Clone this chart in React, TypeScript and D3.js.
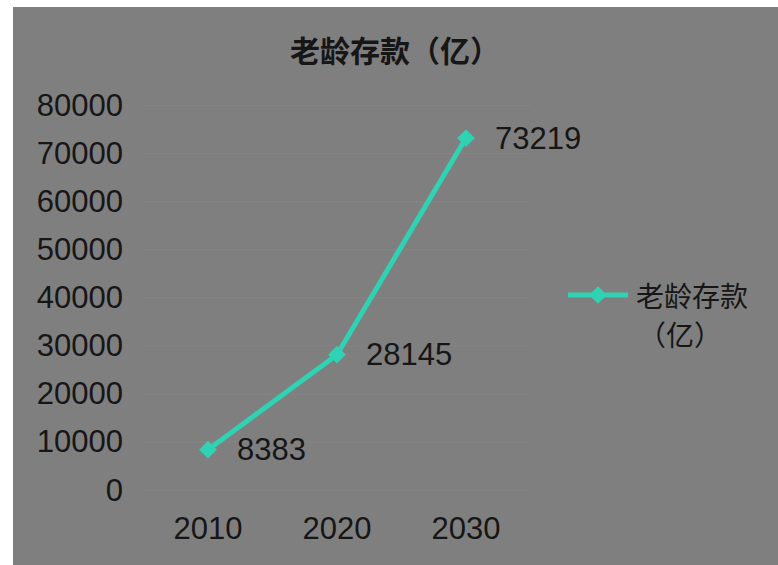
import React from "react";
import * as d3 from "d3";

const categories = ["2010", "2020", "2030"];
const values = [8383, 28145, 73219];
const yTicks = [0, 10000, 20000, 30000, 40000, 50000, 60000, 70000, 80000];
const title = "老龄存款（亿）";
const legendLines = ["老龄存款", "（亿）"];

const W = 778;
const H = 565;
const LINE = "#2fd2b3";
const TEXT = "#161616";
const FONT = "'Liberation Sans', Arial, sans-serif";
const CJK = "'Noto Sans CJK SC', 'Noto Sans', sans-serif";

export default function App() {
  const x = d3.scaleBand<string>().domain(categories).range([143.5, 530.5]).padding(0);
  const y = d3.scaleLinear().domain([0, 80000]).range([490, 105.5]);
  const cx = (c: string) => (x(c) as number) + x.bandwidth() / 2;
  const line = d3
    .line<number>()
    .x((_, i) => cx(categories[i]))
    .y((d) => y(d));
  const diamond = d3.symbol().type(d3.symbolDiamond2).size(200)();

  return (
    <svg
      width={W}
      height={H}
      style={{ position: "absolute", left: 0, top: 0, background: "#ffffff" }}
    >
      <rect x={13} y={7} width={W - 13} height={H - 7} fill="#7f7f7f" />
      <text
        x={395}
        y={49}
        textAnchor="middle"
        dominantBaseline="central"
        fontFamily={CJK}
        fontWeight={700}
        fontSize={30}
        fill={TEXT}
      >
        {title}
      </text>
      {yTicks.map((t) => (
        <g key={t}>
          <line x1={143.5} x2={530.5} y1={y(t)} y2={y(t)} stroke="#848484" strokeWidth={1} />
          <text
            x={123}
            y={y(t)}
            textAnchor="end"
            dominantBaseline="central"
            fontFamily={FONT}
            fontSize={31}
            fill={TEXT}
          >
            {t}
          </text>
        </g>
      ))}
      {categories.map((c) => (
        <text
          key={c}
          x={cx(c)}
          y={528}
          textAnchor="middle"
          dominantBaseline="central"
          fontFamily={FONT}
          fontSize={31}
          fill={TEXT}
        >
          {c}
        </text>
      ))}
      <path d={line(values) || ""} fill="none" stroke={LINE} strokeWidth={5} strokeLinejoin="round" />
      {values.map((v, i) => (
        <g key={i}>
          <path d={diamond || ""} transform={`translate(${cx(categories[i])},${y(v)})`} fill={LINE} />
          <text
            x={cx(categories[i]) + 29}
            y={y(v)}
            dominantBaseline="central"
            fontFamily={FONT}
            fontSize={31}
            fill={TEXT}
          >
            {v}
          </text>
        </g>
      ))}
      <g>
        <line x1={568} x2={628} y1={295} y2={295} stroke={LINE} strokeWidth={5} />
        <path d={diamond || ""} transform="translate(598,295)" fill={LINE} />
        <text
          x={636}
          y={295}
          dominantBaseline="central"
          fontFamily={CJK}
          fontSize={28}
          fill={TEXT}
        >
          {legendLines[0]}
        </text>
        <text
          x={638}
          y={334}
          dominantBaseline="central"
          fontFamily={CJK}
          fontSize={28}
          fill={TEXT}
        >
          {legendLines[1]}
        </text>
      </g>
    </svg>
  );
}
